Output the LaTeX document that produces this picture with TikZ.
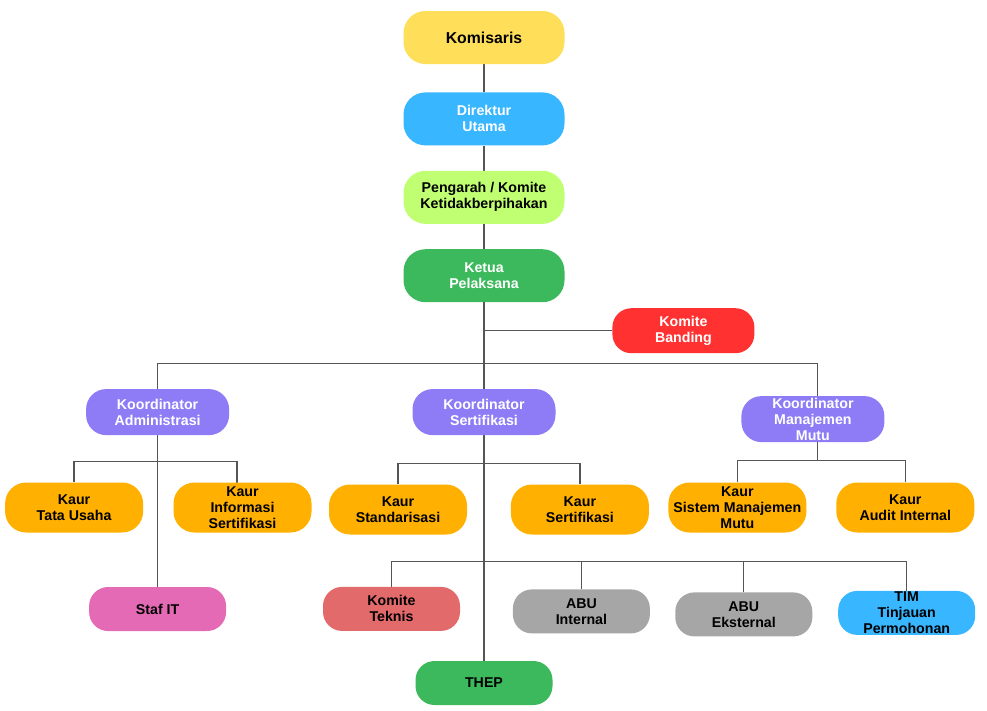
\documentclass[tikz,border=0pt]{standalone}
\usepackage{fontspec}
\setmainfont{Liberation Sans}
\usepackage{xcolor}
\definecolor{KomYellow}{HTML}{FFDE59}
\definecolor{SkyBlue}{HTML}{38B6FF}
\definecolor{LimeGreen}{HTML}{C1FF72}
\definecolor{LeafGreen}{HTML}{3CB95C}
\definecolor{AlarmRed}{HTML}{FF3131}
\definecolor{CoordPurple}{HTML}{8E7CF7}
\definecolor{KaurOrange}{HTML}{FFB000}
\definecolor{StafPink}{HTML}{E56AB6}
\definecolor{TeknisRed}{HTML}{E36A6A}
\definecolor{AbuGrey}{HTML}{A6A6A6}
\definecolor{WireGrey}{HTML}{555555}
\usepackage{tikz}
\usetikzlibrary{positioning, calc, backgrounds}
\tikzstyle{unit} = [rectangle, draw=none, text=black, inner sep=0pt, text centered, rounded corners=22pt, align=center, font=\fontsize{14.2}{16}\selectfont\bfseries]
\tikzstyle{spine} = [unit, minimum width=161pt, minimum height=53pt]
\tikzstyle{coord} = [unit, fill=CoordPurple, text=white, minimum width=143pt, minimum height=46pt, rounded corners=20pt]
\tikzstyle{kaur} = [unit, fill=KaurOrange, minimum width=138pt, minimum height=50pt, rounded corners=21pt]
\tikzstyle{leaf} = [unit, minimum width=137pt, minimum height=44pt, rounded corners=19pt]
\tikzstyle{line} = [-, color=WireGrey, line width=1.3pt]

\begin{document}
\begin{tikzpicture}
        \useasboundingbox (0pt,0pt) rectangle (987pt,-710pt);
        % Top of the chart
        \node [spine, fill=KomYellow, font=\fontsize{15.8}{17}\selectfont\bfseries] (komisaris) at (484pt,-37.5pt) {Komisaris};
        \node [spine, fill=SkyBlue, text=white, below=28pt of komisaris] (direktur) {Direktur\\Utama};
        \node [spine, fill=LimeGreen, below=25pt of direktur] (pengarah) {Pengarah / Komite\\Ketidakberpihakan};
        \node [spine, fill=LeafGreen, text=white, below=25pt of pengarah] (ketua) {Ketua\\Pelaksana};
        \node [leaf, fill=AlarmRed, text=white, minimum width=142pt, minimum height=45pt, right=47.5pt of ketua, yshift=-55pt] (banding) {Komite\\Banding};

        % Koordinator row
        \node [coord, below=86.5pt of ketua] (korSert) {Koordinator\\Sertifikasi};
        \node [coord, left=183pt of korSert] (korAdmin) {Koordinator\\Administrasi};
        \node [coord, right=185.5pt of korSert, yshift=-7pt] (korMutu) {Koordinator\\Manajemen\\Mutu};

        % Kaur row
        \node [kaur, below=47pt of korAdmin, xshift=-83.5pt] (kaurTata) {Kaur\\Tata Usaha};
        \node [kaur, right=30pt of kaurTata] (kaurInfo) {Kaur\\Informasi\\Sertifikasi};
        \node [kaur, below=49pt of korSert, xshift=-86pt] (kaurStd) {Kaur\\Standarisasi};
        \node [kaur, right=43.5pt of kaurStd] (kaurSert) {Kaur\\Sertifikasi};
        \node [kaur, below=40pt of korMutu, xshift=-75.5pt] (kaurSMM) {Kaur\\Sistem Manajemen\\Mutu};
        \node [kaur, right=29.5pt of kaurSMM] (kaurAudit) {Kaur\\Audit Internal};

        % Lower units
        \node [leaf, fill=StafPink, below=151.5pt of korAdmin] (stafIT) {Staf IT};
        \node [leaf, fill=TeknisRed, below=52pt of kaurStd, xshift=-6.5pt] (komTeknis) {Komite\\Teknis};
        \node [leaf, fill=AbuGrey, below=54.5pt of kaurSert, xshift=1.5pt] (abuInt) {ABU\\Internal};
        \node [leaf, fill=AbuGrey, right=25pt of abuInt, yshift=-3pt] (abuEks) {ABU\\Eksternal};
        \node [leaf, fill=SkyBlue, right=25.5pt of abuEks, yshift=1.5pt] (tim) {TIM\\Tinjauan\\Permohonan};
        \node [leaf, fill=LeafGreen, below=225.5pt of korSert] (thep) {THEP};

        % Bus coordinates
        \coordinate (mainBus) at ($(ketua.south)+(0,-61pt)$);
        \coordinate (admBus) at ($(korAdmin.south)+(0,-26.5pt)$);
        \coordinate (sertBus) at ($(korSert.south)+(0,-28.5pt)$);
        \coordinate (mutuBus) at ($(korMutu.south)+(0,-18.5pt)$);
        \coordinate (lowBus) at ($(korSert.south)+(0,-126.5pt)$);
        \coordinate (mutuTap) at ([xshift=4.5pt]korMutu.center);

        % Connect nodes
        \begin{scope}[on background layer]
            \draw [line] (komisaris) -- (direktur);
            \draw [line] (direktur) -- (pengarah);
            \draw [line] (pengarah) -- (ketua);
            \draw [line] (ketua) -- (thep);
            \draw [line] (banding) -- (banding -| ketua);
            \draw [line] (korAdmin) |- (mainBus) -| (mutuTap);
            \draw [line] (kaurTata) |- (admBus) -| ([xshift=-5.5pt]kaurInfo.center);
            \draw [line] (korAdmin) -- (stafIT);
            \draw [line] (kaurStd) |- (sertBus) -| (kaurSert);
            \draw [line] (kaurSMM) |- (mutuBus) -| (kaurAudit);
            \draw [line] (mutuTap) -- (mutuTap |- mutuBus);
            \draw [line] (komTeknis) |- (lowBus) -| (tim);
            \draw [line] (abuInt) -- (abuInt |- lowBus);
            \draw [line] (abuEks) -- (abuEks |- lowBus);
        \end{scope}
    \end{tikzpicture}
\end{document}
